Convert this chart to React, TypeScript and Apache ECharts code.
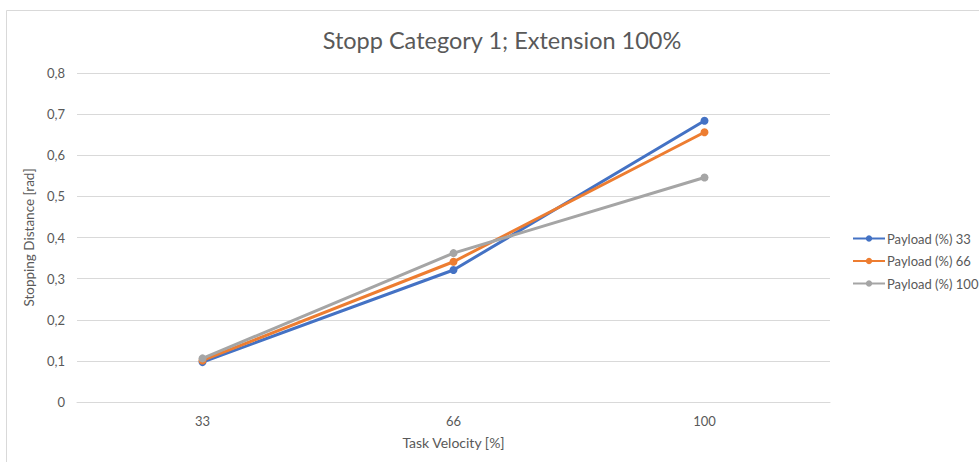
import React, { useEffect, useRef } from "react";
import * as echarts from "echarts";

const title = "Stopp Category 1; Extension 100%";
const categories = ["33", "66", "100"];
const seriesNames = ["Payload (%) 33", "Payload (%) 66", "Payload (%) 100"];
const payload33 = [0.097, 0.321, 0.684];
const payload66 = [0.101, 0.341, 0.656];
const payload100 = [0.106, 0.362, 0.546];
const colors = ["#4472C4", "#ED7D31", "#A5A5A5"];
const yTicks = { min: 0, max: 0.8, interval: 0.1 };

export default function App() {
  const ref = useRef<HTMLDivElement>(null);
  useEffect(() => {
    document.body.style.margin = "0";
    const chart = echarts.init(ref.current!, null, { renderer: "svg" });
    const font = "Lato, 'Open Sans', sans-serif";
    const data = [payload33, payload66, payload100];
    chart.setOption({
      animation: false,
      backgroundColor: "#ffffff",
      color: colors,
      title: {
        text: title,
        left: 497,
        top: 23,
        textAlign: "center",
        textStyle: { fontFamily: font, fontSize: 23.5, fontWeight: "normal", color: "#595959" },
      },
      graphic: [
        {
          type: "rect",
          shape: { x: 6.5, y: 10.5, width: 1000, height: 500 },
          style: { fill: "none", stroke: "#d9d9d9", lineWidth: 1 },
          silent: true,
        },
      ],
      legend: {
        orient: "vertical",
        left: 847,
        top: 227,
        itemWidth: 32,
        itemHeight: 8,
        itemGap: 9.5,
        data: seriesNames,
        textStyle: { fontFamily: font, fontSize: 13, color: "#595959", padding: [0, 0, 0, -3] },
      },
      grid: { left: 77, right: 149, top: 73, bottom: 60 },
      xAxis: {
        type: "category",
        data: categories,
        boundaryGap: true,
        name: "Task Velocity [%]",
        nameLocation: "middle",
        nameGap: 33,
        nameTextStyle: { fontFamily: font, fontSize: 14, color: "#595959" },
        axisLine: { show: true, lineStyle: { color: "#d9d9d9", width: 1 } },
        axisTick: { show: false },
        axisLabel: { fontFamily: font, fontSize: 13, color: "#595959", margin: 12 },
      },
      yAxis: {
        type: "value",
        min: yTicks.min,
        max: yTicks.max,
        interval: yTicks.interval,
        name: "Stopping Distance [rad]",
        nameLocation: "middle",
        nameGap: 32,
        nameTextStyle: { fontFamily: font, fontSize: 13.5, color: "#595959" },
        axisLine: { show: false },
        axisTick: { show: false },
        splitLine: { lineStyle: { color: "#d9d9d9", width: 1 } },
        axisLabel: {
          fontFamily: font,
          fontSize: 13,
          color: "#595959",
          margin: 12,
          formatter: (v: number) => (Math.round(v * 10) / 10).toString().replace(".", ","),
        },
      },
      series: seriesNames.map((n, i) => ({
        name: n,
        type: "line",
        data: data[i],
        symbol: "circle",
        symbolSize: 8,
        lineStyle: { width: 3, color: colors[i] },
        itemStyle: { color: colors[i] },
      })),
    });
    return () => chart.dispose();
  }, []);
  return <div ref={ref} style={{ width: 979, height: 462 }} />;
}
